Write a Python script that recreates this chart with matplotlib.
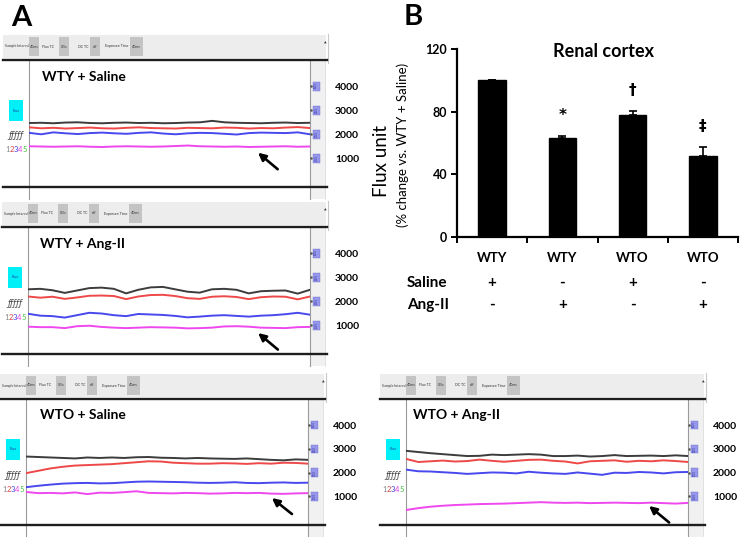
import matplotlib
matplotlib.use("Agg")
import matplotlib.pyplot as plt
from matplotlib.patches import Rectangle
from matplotlib.transforms import blended_transform_factory
import numpy as np

plt.rcParams["font.family"] = ["Lato", "DejaVu Sans"]

# ---- panel A: laser Doppler flux traces (flux units, channels 1-4) ----
wty_sal_ch1 = [2470, 2480, 2460, 2490, 2500, 2470, 2460, 2480, 2490, 2470, 2480, 2460,
               2470, 2490, 2500, 2560, 2500, 2480, 2470, 2460, 2480, 2490, 2470, 2480]
wty_sal_ch2 = [2290, 2250, 2270, 2240, 2260, 2280, 2250, 2240, 2270, 2290, 2260, 2250,
               2240, 2270, 2260, 2250, 2280, 2270, 2240, 2260, 2250, 2280, 2300, 2260]
wty_sal_ch3 = [2060, 2000, 2080, 2040, 2010, 2050, 2070, 2040, 2020, 2060, 2080, 2030,
               2000, 2040, 2060, 2050, 2020, 1990, 2050, 2070, 2060, 2050, 2080, 2000]
wty_sal_ch4 = [1500, 1490, 1480, 1490, 1500, 1480, 1470, 1490, 1500, 1490, 1480, 1490,
               1510, 1530, 1500, 1490, 1480, 1490, 1470, 1480, 1490, 1500, 1480, 1490]

wty_ang_ch1 = [2500, 2520, 2460, 2350, 2450, 2550, 2570, 2520, 2330, 2480, 2580, 2600,
               2500, 2400, 2360, 2500, 2520, 2480, 2330, 2420, 2440, 2450, 2320, 2480]
wty_ang_ch2 = [2200, 2150, 2190, 2100, 2160, 2230, 2240, 2220, 2090, 2200, 2260, 2270,
               2220, 2130, 2100, 2190, 2210, 2180, 2090, 2170, 2200, 2190, 2080, 2200]
wty_ang_ch3 = [1480, 1400, 1380, 1320, 1420, 1520, 1490, 1420, 1380, 1470, 1450, 1430,
               1390, 1330, 1360, 1400, 1420, 1390, 1360, 1400, 1420, 1460, 1520, 1440]
wty_ang_ch4 = [940, 920, 920, 880, 960, 980, 930, 900, 880, 900, 920, 910,
               900, 870, 880, 900, 950, 960, 940, 900, 890, 880, 920, 930]

wto_sal_ch1 = [2680, 2660, 2640, 2620, 2600, 2640, 2620, 2640, 2620, 2650, 2660, 2630,
               2620, 2600, 2620, 2600, 2590, 2580, 2600, 2570, 2540, 2520, 2560, 2540]
wto_sal_ch2 = [1980, 2080, 2180, 2250, 2300, 2320, 2340, 2360, 2400, 2440, 2480, 2470,
               2420, 2400, 2380, 2380, 2400, 2390, 2370, 2400, 2380, 2420, 2410, 2380]
wto_sal_ch3 = [1390, 1450, 1500, 1540, 1560, 1570, 1550, 1560, 1590, 1620, 1630, 1620,
               1610, 1600, 1580, 1570, 1580, 1600, 1570, 1560, 1580, 1590, 1570, 1580]
wto_sal_ch4 = [1190, 1140, 1150, 1130, 1170, 1100, 1160, 1150, 1180, 1220, 1150, 1140,
               1130, 1150, 1140, 1120, 1130, 1150, 1140, 1150, 1120, 1110, 1130, 1140]

wto_ang_ch1 = [2920, 2870, 2820, 2780, 2740, 2700, 2710, 2760, 2740, 2760, 2780, 2760,
               2700, 2700, 2720, 2680, 2700, 2740, 2700, 2710, 2720, 2700, 2730, 2700]
wto_ang_ch2 = [2580, 2450, 2480, 2510, 2470, 2490, 2550, 2500, 2460, 2500, 2540, 2550,
               2500, 2470, 2390, 2480, 2500, 2520, 2460, 2500, 2480, 2520, 2490, 2450]
wto_ang_ch3 = [2130, 2060, 2050, 2020, 1990, 1950, 1980, 2010, 2000, 1970, 2040, 2000,
               1970, 1950, 2010, 1960, 1910, 2000, 1990, 2030, 2010, 1970, 2020, 2030]
wto_ang_ch4 = [430, 510, 570, 610, 640, 660, 680, 690, 700, 720, 740, 760,
               740, 730, 740, 720, 730, 740, 730, 720, 740, 720, 700, 730]

flux_ticks = [1000, 2000, 3000, 4000]

# ---- panel B: renal cortex flux, % of WTY + Saline ----
groups = ["WTY", "WTY", "WTO", "WTO"]
saline = ["+", "-", "+", "-"]
ang_ii = ["-", "+", "-", "+"]
flux_pct = [100, 63, 78, 52]
flux_sem = [0, 1.3, 2.2, 5.4]
signif = ["", "*", "†", "‡"]

CH_COLORS = ["#3c3c3c", "#ee4848", "#4848ee", "#ee48ee"]
W, H = 740, 537

fig = plt.figure(figsize=(W / 100, H / 100), dpi=100)
bg = fig.add_axes([0, 0, 1, 1])
bg.set_xlim(0, W)
bg.set_ylim(H, 0)
bg.axis("off")


def px_axes(x0, y0, x1, y1):
    return fig.add_axes([x0 / W, 1 - y1 / H, (x1 - x0) / W, (y1 - y0) / H])


def draw_screen(x0, x1, top, bot, title, traces, arrow, title_x):
    fx, rx = x0 - 26, x1 + 16
    # toolbar
    bg.add_patch(Rectangle((fx, top - 25), rx - fx, 23, fc="#ededed", ec="none"))
    items = [(2, "Sample Interval", 26, "40ms"), (39, "Flux TC", 56, "0.5s"),
             (75, "DC TC", 87, "off"), (102, "Exposure Time", 127, "40ms")]
    for lx, lab, bx, val in items:
        bg.text(fx + lx, top - 13.5, lab, fontsize=2.6, va="center", color="#333")
        bw = 13 if val == "40ms" and bx > 100 else 10
        bg.add_patch(Rectangle((fx + bx, top - 23), bw, 19, fc="#c4c4c4", ec="none"))
        bg.text(fx + bx + bw / 2, top - 13.5, val, fontsize=2.6, ha="center",
                va="center", color="#333")
    bg.plot([rx + 2, rx + 2], [top - 26, top + 3], color="#c8c8c8", lw=0.8)
    bg.text(rx - 1, top - 17, "▲", fontsize=2.5, color="#333", ha="center", va="center")
    # frame
    bg.add_patch(Rectangle((x1, top), 15, bot - top + 12, fc="#f1f1f1", ec="none"))
    for xx in (x0, x1):
        bg.plot([xx, xx], [top, bot + 12], color="#9a9a9a", lw=0.8)
    bg.plot([x1 + 15, x1 + 15], [top, bot + 12], color="#dcdcdc", lw=0.6)
    for yy in (top, bot):
        bg.plot([fx, rx + 1], [yy, yy], color="#1e1e1e", lw=1.7)
    # left channel panel
    bg.add_patch(Rectangle((fx + 6, top + 40), 14, 21, fc="#00f0f8", ec="none"))
    bg.text(fx + 13, top + 50.5, "Flux", fontsize=2.8, ha="center", va="center",
            color="#2040a0")
    bg.text(fx + 13, top + 76, "ƒƒƒƒƒ", fontsize=6, ha="center", va="center",
            color="#444", family="DejaVu Sans", style="italic")
    for i, c in enumerate(["#888", "#e04040", "#4040e0", "#e040e0", "#40c040"]):
        bg.text(fx + 4.5 + i * 4.3, top + 90, str(i + 1), fontsize=5.5, ha="center",
                va="center", color=c)

    ax = px_axes(x0, top, x1, bot)
    ax.set_facecolor("none")
    for s in ax.spines.values():
        s.set_visible(False)
    for vals, c in zip(traces, CH_COLORS):
        ax.plot(np.arange(len(vals)), vals, color=c, lw=1.4)
    ax.set_xlim(0, len(traces[0]) - 1)
    ax.set_ylim(-200, 5100)
    ax.set_xticks([])
    ax.yaxis.tick_right()
    ax.set_yticks(flux_ticks)
    ax.set_yticklabels([str(t) for t in flux_ticks], fontsize=7.5, fontweight="bold")
    ax.tick_params(axis="y", length=0, pad=18)
    trans = blended_transform_factory(ax.transAxes, ax.transData)
    for t in flux_ticks:
        ax.add_patch(Rectangle((1.011, t - 180), 0.024, 360, transform=trans,
                               fc="#9696ea", ec="#7070cc", lw=0.3, clip_on=False))
        ax.text(1.023, t, str(t), transform=trans, fontsize=1.8, ha="center",
                va="center", color="#3030a0", rotation=90, clip_on=False)
        ax.plot([1.004], [t], marker="o", ms=0.8, color="#555", transform=trans,
                clip_on=False)
    ax.text(title_x, 0.87, title, transform=ax.transAxes, fontsize=10,
            fontweight="bold", va="center")
    ax.annotate("", xy=arrow[0], xytext=arrow[1], xycoords="axes fraction",
                textcoords="axes fraction", annotation_clip=False,
                arrowprops=dict(arrowstyle="-|>", color="black", lw=1.9,
                                mutation_scale=11, shrinkA=0, shrinkB=0))


draw_screen(29, 310, 60, 187, "WTY + Saline",
            [wty_sal_ch1, wty_sal_ch2, wty_sal_ch3, wty_sal_ch4],
            ((0.815, 0.27), (0.885, 0.14)), 0.046)
draw_screen(28, 310, 227, 354, "WTY + Ang-II",
            [wty_ang_ch1, wty_ang_ch2, wty_ang_ch3, wty_ang_ch4],
            ((0.816, 0.165), (0.886, 0.035)), 0.042)
draw_screen(26, 308, 399, 525, "WTO + Saline",
            [wto_sal_ch1, wto_sal_ch2, wto_sal_ch3, wto_sal_ch4],
            ((0.872, 0.214), (0.943, 0.087)), 0.05)
draw_screen(406, 688, 399, 525, "WTO + Ang-II",
            [wto_ang_ch1, wto_ang_ch2, wto_ang_ch3, wto_ang_ch4],
            ((0.862, 0.151), (0.933, 0.02)), 0.026)

fig.text(21 / W, 1 - 18 / H, "A", fontsize=21, fontweight="bold", ha="center", va="center")
fig.text(413 / W, 1 - 17 / H, "B", fontsize=21, fontweight="bold", ha="center", va="center")

# ---- panel B bar chart ----
axb = px_axes(457, 49, 738, 237)
x = np.arange(len(groups))
axb.bar(x, flux_pct, width=0.39, color="black", edgecolor="black", zorder=2)
axb.errorbar(x, flux_pct, yerr=[np.zeros(len(x)), flux_sem], fmt="none",
             ecolor="black", elinewidth=1.2, capsize=3, capthick=1.2, zorder=3)
for xi, v, e, s in zip(x, flux_pct, flux_sem, signif):
    if s:
        axb.text(xi, v + e + 13, s, ha="center", va="center", fontsize=11,
                 fontweight="bold", family=["DejaVu Sans"])
axb.set_xlim(-0.5, 3.5)
axb.set_ylim(0, 120)
axb.set_yticks([0, 40, 80, 120])
axb.set_yticklabels(["0", "40", "80", "120"], fontsize=9, fontweight="bold")
axb.set_xticks(x)
axb.set_xticklabels(groups, fontsize=9.5, fontweight="bold")
axb.set_xticks(np.arange(-0.5, 4, 1), minor=True)
axb.tick_params(axis="x", which="major", length=0, pad=11)
axb.tick_params(axis="x", which="minor", length=4, width=1.4, direction="out")
axb.tick_params(axis="y", length=4, width=1.4, direction="out", pad=3)
for side in ("top", "right"):
    axb.spines[side].set_visible(False)
for side in ("left", "bottom"):
    axb.spines[side].set_linewidth(1.6)
tb = blended_transform_factory(axb.transData, axb.transAxes)
for row, (name, signs) in enumerate([("Saline", saline), ("Ang-II", ang_ii)]):
    yy = -0.245 - row * 0.117
    axb.text(-1.21, yy, name, transform=tb, fontsize=11, fontweight="bold",
             ha="left", va="center")
    for xi, s in zip(x, signs):
        axb.text(xi, yy, s, transform=tb, fontsize=11, fontweight="bold",
                 ha="center", va="center")
axb.text(0.52, 0.985, "Renal cortex", transform=axb.transAxes, fontsize=13,
         fontweight="bold", ha="center", va="center")
axb.text(-0.267, 0.404, "Flux unit", transform=axb.transAxes, fontsize=13.5,
         rotation=90, ha="center", va="center")
axb.text(-0.192, 0.49, "(% change vs. WTY + Saline)", transform=axb.transAxes,
         fontsize=9.5, rotation=90, ha="center", va="center")

fig.savefig("out.png", dpi=100)
